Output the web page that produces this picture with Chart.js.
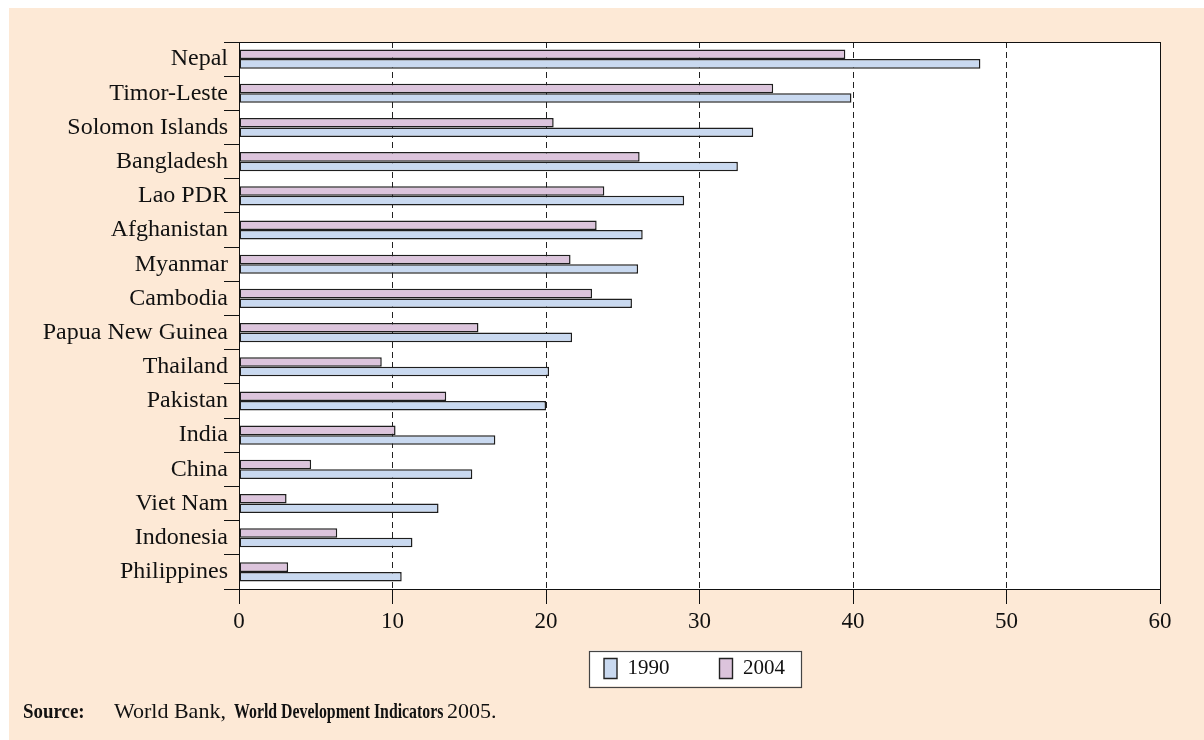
<!DOCTYPE html>
<html>
<head>
<meta charset="utf-8">
<script src="https://cdn.jsdelivr.net/npm/chart.js@4.4.1/dist/chart.umd.min.js"></script>
<style>
  html, body { margin: 0; padding: 0; background: #ffffff; }
  #wrap { position: relative; width: 1204px; height: 740px; overflow: hidden; }
  #c { position: absolute; left: 0; top: 0; }
  .src { position: absolute; top: 697px; font-family: "Liberation Serif", serif; font-size: 22px; color: #111; white-space: nowrap; line-height: 28px; }
  .b { font-weight: bold; }
</style>
</head>
<body>
<div id="wrap">
  <canvas id="c" width="1204" height="740"></canvas>
  <div class="src b" style="left:23px; transform:scaleX(0.86); transform-origin:left;">Source:</div>
  <div class="src" style="left:114px;">World Bank,</div>
  <div class="src b" style="left:234px; transform:scaleX(0.72); transform-origin:left;">World Development Indicators</div>
  <div class="src" style="left:447px;">2005.</div>
</div>
<script>
const categories = ['Nepal', 'Timor-Leste', 'Solomon Islands', 'Bangladesh', 'Lao PDR', 'Afghanistan', 'Myanmar', 'Cambodia', 'Papua New Guinea', 'Thailand', 'Pakistan', 'India', 'China', 'Viet Nam', 'Indonesia', 'Philippines'];
const values1990 = [48.3, 39.9, 33.5, 32.5, 29.0, 26.3, 26.0, 25.6, 21.7, 20.2, 20.0, 16.7, 15.2, 13.0, 11.3, 10.6];
const values2004 = [39.5, 34.8, 20.5, 26.1, 23.8, 23.3, 21.6, 23.0, 15.6, 9.3, 13.5, 10.2, 4.7, 3.1, 6.4, 3.2];
const xTicks = [0, 10, 20, 30, 40, 50, 60];

const FONT = '"Liberation Serif", "Times New Roman", serif';

function legendFrame(legend) {
  const hb = legend.legendHitBoxes;
  const l = Math.min(...hb.map(h => h.left)) - 15;
  const r = Math.max(...hb.map(h => h.left + h.width)) + 16;
  const cy = hb[0].top + hb[0].height / 2;
  return { l, r, t: cy - 18, b: cy + 18 };
}

const panelPlugin = {
  id: 'panel',
  afterLayout(chart) {
    // nudge the legend box into place below the axis
    const lg = chart.legend;
    if (lg) {
      const dy = -31, dx = -5;
      lg.top += dy; lg.bottom += dy;
      lg.left += dx; lg.right += dx;
    }
  },
  beforeDraw(chart) {
    const { ctx, chartArea } = chart;
    ctx.save();
    ctx.fillStyle = '#ffffff';
    ctx.fillRect(0, 0, chart.width, chart.height);
    ctx.fillStyle = '#fde9d6';
    ctx.fillRect(9, 8, chart.width - 9, chart.height - 8);
    ctx.fillStyle = '#ffffff';
    ctx.fillRect(chartArea.left, chartArea.top, chartArea.right - chartArea.left, chartArea.bottom - chartArea.top);
    const legend = chart.legend;
    if (legend && legend.legendHitBoxes && legend.legendHitBoxes.length) {
      const f = legendFrame(legend);
      ctx.fillRect(f.l, f.t, f.r - f.l, f.b - f.t);
    }
    ctx.restore();
  },
  afterDraw(chart) {
    const { ctx, chartArea, legend } = chart;
    ctx.save();
    ctx.strokeStyle = '#111';
    ctx.lineWidth = 1;
    ctx.strokeRect(Math.round(chartArea.left) + 0.5, Math.round(chartArea.top) + 0.5,
      Math.round(chartArea.right - chartArea.left), Math.round(chartArea.bottom - chartArea.top));
    if (legend && legend.legendHitBoxes && legend.legendHitBoxes.length) {
      const f = legendFrame(legend);
      ctx.strokeStyle = '#444';
      ctx.lineWidth = 1.2;
      ctx.strokeRect(Math.round(f.l) + 0.5, Math.round(f.t) + 0.5, Math.round(f.r - f.l), Math.round(f.b - f.t));
    }
    ctx.restore();
  }
};

new Chart(document.getElementById('c'), {
  type: 'bar',
  data: {
    labels: categories,
    datasets: [
      {
        label: '2004',
        data: values2004,
        backgroundColor: '#dcc4dc',
        borderColor: '#1e1e1e',
        borderWidth: 1.5,
        borderSkipped: false,
        categoryPercentage: 0.56,
        barPercentage: 1.0
      },
      {
        label: '1990',
        data: values1990,
        backgroundColor: '#c9d9f0',
        borderColor: '#1e1e1e',
        borderWidth: 1.5,
        borderSkipped: false,
        categoryPercentage: 0.56,
        barPercentage: 1.0
      }
    ]
  },
  options: {
    indexAxis: 'y',
    responsive: false,
    animation: false,
    layout: { padding: { top: 42, right: 44, left: 0, bottom: 20 } },
    plugins: {
      tooltip: { enabled: false },
      legend: {
        position: 'bottom',
        reverse: true,
        fullSize: false,
        labels: {
          color: '#111',
          font: { family: FONT, size: 21 },
          boxWidth: 13,
          boxHeight: 20,
          padding: 50,
          generateLabels(chart) {
            return chart.data.datasets.map((ds, i) => ({
              text: ds.label,
              fillStyle: ds.backgroundColor,
              strokeStyle: '#222',
              lineWidth: 1.4,
              hidden: false,
              datasetIndex: i,
              fontColor: '#111'
            }));
          }
        }
      }
    },
    scales: {
      x: {
        type: 'linear',
        min: xTicks[0],
        max: xTicks[xTicks.length - 1],
        afterFit(scale) { scale.height = 50; },
        border: { display: true, color: '#111', width: 1, dash: [6, 4] },
        grid: {
          color: (ctx) => (ctx.tick && (ctx.tick.value === 0 || ctx.tick.value === 60)) ? 'rgba(0,0,0,0)' : '#222',
          lineWidth: 1,
          drawTicks: true,
          tickLength: 15,
          tickColor: '#111',
          tickWidth: 1
        },
        ticks: {
          stepSize: 10,
          color: '#111',
          font: { family: FONT, size: 23 },
          padding: 4,
          maxRotation: 0,
          callback: (v) => xTicks.includes(v) ? String(v) : ''
        }
      },
      y: {
        type: 'category',
        afterFit(scale) { scale.width = 239; },
        border: { display: true, color: '#111', width: 1 },
        grid: {
          offset: true,
          drawOnChartArea: false,
          drawTicks: true,
          tickLength: 15,
          tickColor: '#111',
          tickWidth: 1
        },
        ticks: {
          color: '#111',
          font: { family: FONT, size: 24 },
          padding: -4,
          autoSkip: false
        }
      }
    }
  },
  plugins: [panelPlugin]
});
</script>
</body>
</html>
